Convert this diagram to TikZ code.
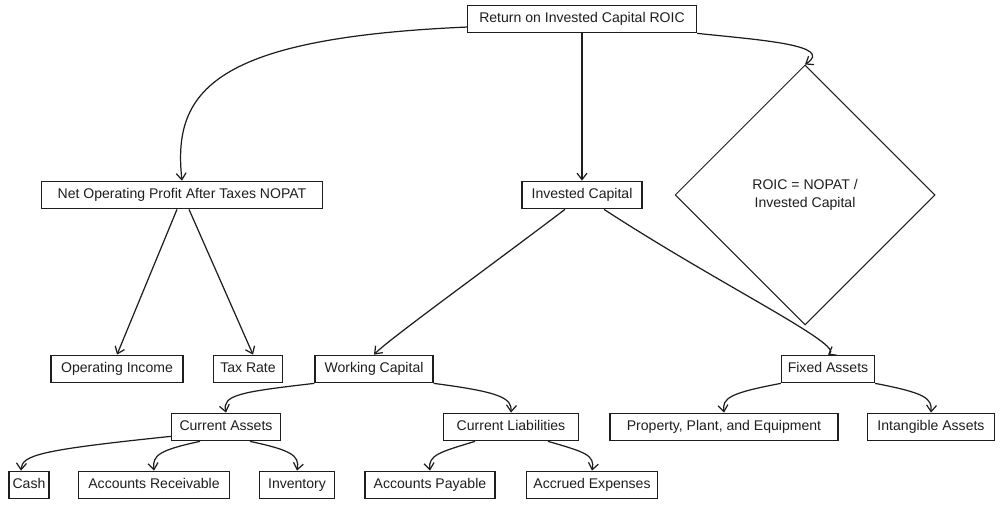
\documentclass[tikz,border=0pt]{standalone}
\usepackage{fontspec}
\setmainfont{Liberation Sans}
\definecolor{inkgray}{RGB}{30,30,30}
\usetikzlibrary{arrows.meta,shapes.geometric,calc}

\begin{document}
\begin{tikzpicture}[x=0.02cm, y=-0.02cm,
    box/.style={draw=inkgray, line width=0.7pt, minimum height=0.55cm, inner xsep=2pt,
      text height=6pt, text depth=1.6pt, font=\fontsize{8}{9.5}\selectfont, text=inkgray},
    decision/.style={diamond, draw=inkgray, line width=0.6pt, minimum width=5.2cm,
      minimum height=5.2cm, inner sep=0pt, align=center, font=\fontsize{8}{10}\selectfont, text=inkgray},
    link/.style={draw=inkgray, line width=0.7pt, -{Straight Barb[length=1.3mm,width=2mm]}}]
    % Canvas of 1000 x 506 px
    \useasboundingbox (0,0) rectangle (1000,506);

    % Top level
    \node[box, minimum width=4.58cm] (roic) at (582,19) {Return on Invested Capital ROIC};

    % Second level
    \node[box, minimum width=5.62cm] (nopat) at (182,195) {Net Operating Profit After Taxes NOPAT};
    \node[box, minimum width=2.4cm]  (ic)    at (582,195) {Invested Capital};
    \node[decision] (ratio) at (805,195) {ROIC = NOPAT /\\Invested Capital};

    % Third level
    \node[box, minimum width=2.64cm] (oi) at (117,369) {Operating Income};
    \node[box, minimum width=1.38cm] (tr) at (248,369) {Tax Rate};
    \node[box, minimum width=2.36cm] (wc) at (374,369) {Working Capital};
    \node[box, minimum width=1.86cm] (fa) at (828,369) {Fixed Assets};

    % Fourth level
    \node[box, minimum width=2.18cm] (ca)  at (226,427) {Current Assets};
    \node[box, minimum width=2.7cm]  (cl)  at (511,427) {Current Liabilities};
    \node[box, minimum width=4.56cm] (ppe) at (724,427) {Property, Plant, and Equipment};
    \node[box, minimum width=2.54cm] (ia)  at (931,427) {Intangible Assets};

    % Fifth level
    \node[box, minimum width=0.8cm]  (cash) at (29,485)  {Cash};
    \node[box, minimum width=3.02cm] (ar)   at (154,485) {Accounts Receivable};
    \node[box, minimum width=1.5cm]  (inv)  at (297,485) {Inventory};
    \node[box, minimum width=2.6cm]  (ap)   at (430,485) {Accounts Payable};
    \node[box, minimum width=2.62cm] (ae)   at (592,485) {Accrued Expenses};

    % Connectors from the top
    \draw[link] (roic.184) .. controls (215,38) and (172,90) .. (nopat.north);
    \draw[link] (roic.south) -- (ic.north);
    \draw[link] (roic.south east) .. controls (760,40) and (835,45) .. (ratio.north);

    % NOPAT split
    \draw[link] ($(nopat.south)+(-5,0)$) -- (oi.north);
    \draw[link] ($(nopat.south)+(7,0)$) -- ($(tr.north)+(5,0)$);

    % Invested capital split
    \draw[link] ($(ic.south)+(-17,0)$) .. controls (485,270) and (388,340) .. (wc.north);
    \draw[link] ($(ic.south)+(22,0)$) .. controls (720,285) and (845,345) .. (fa.north);

    % Working capital split
    \draw[link] (wc.south west) .. controls (240,392) and (222,395) .. (ca.north);
    \draw[link] (wc.south east) .. controls (500,392) and (512,398) .. (cl.north);

    % Current assets split
    \draw[link] ($(ca.south west)+(0,-5)$) .. controls (40,450) and (22,455) .. ($(cash.north)+(-8,0)$);
    \draw[link] ($(ca.south)+(-26,0)$) .. controls (160,450) and (152,455) .. (ar.north);
    \draw[link] ($(ca.south)+(24,0)$) .. controls (290,450) and (300,455) .. (inv.north);

    % Current liabilities split
    \draw[link] ($(cl.south)+(-36,0)$) .. controls (440,452) and (428,455) .. (ap.north);
    \draw[link] ($(cl.south)+(37,0)$) .. controls (585,452) and (595,455) .. (ae.north);

    % Fixed assets split
    \draw[link] (fa.south west) .. controls (730,393) and (722,398) .. (ppe.north);
    \draw[link] (fa.south east) .. controls (925,393) and (932,398) .. (ia.north);
\end{tikzpicture}
\end{document}
